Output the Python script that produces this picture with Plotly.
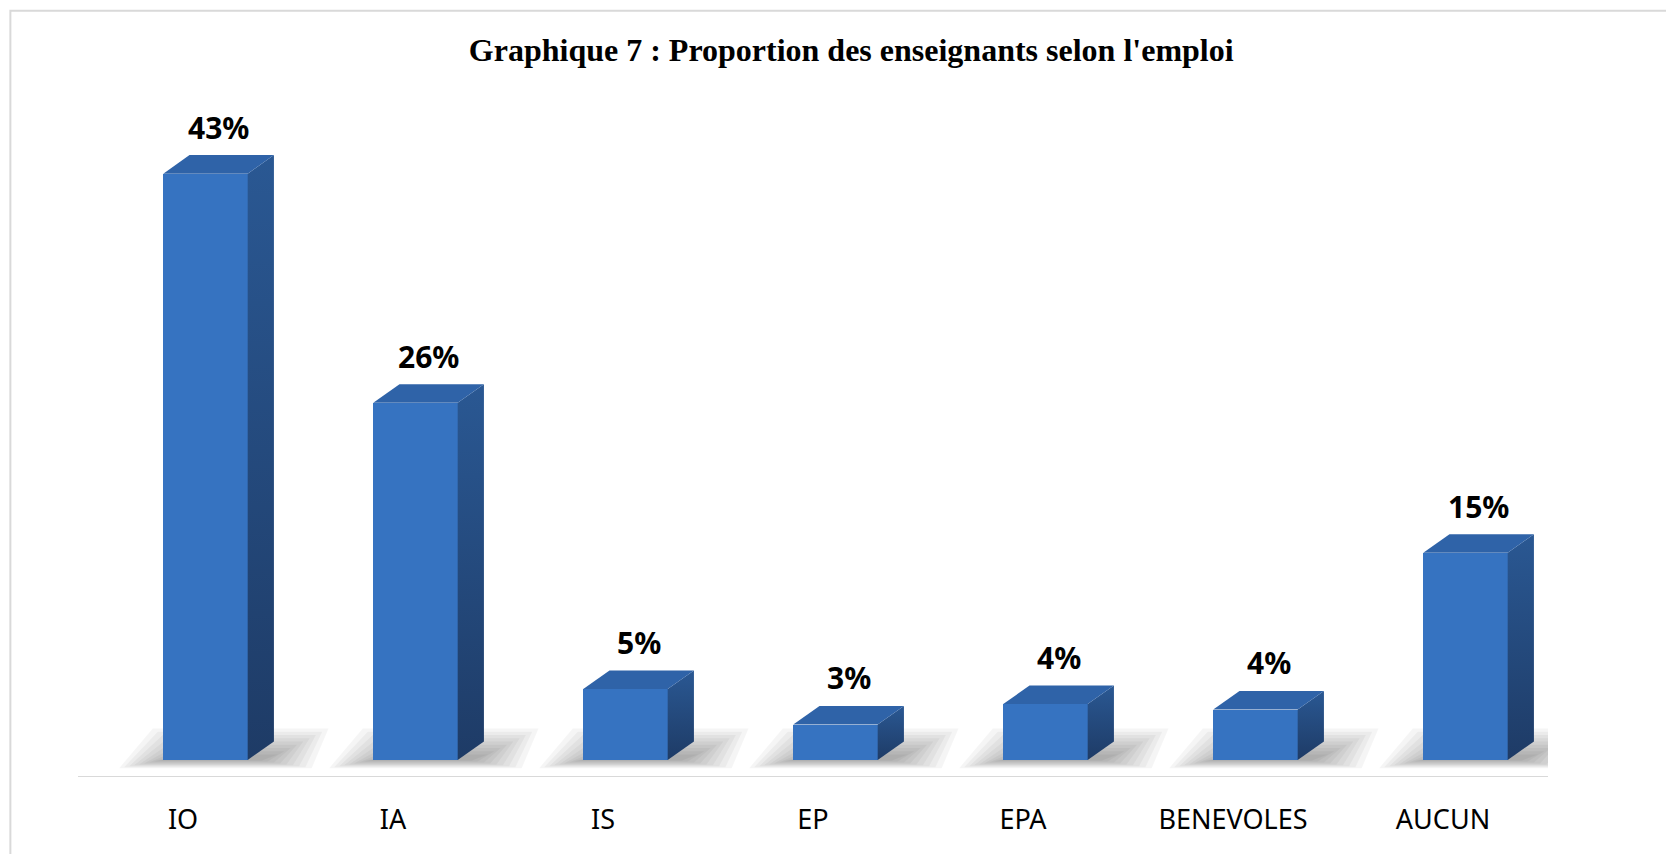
import plotly.graph_objects as go

categories = ["IO", "IA", "IS", "EP", "EPA", "BENEVOLES", "AUCUN"]
values = [43.0, 26.2, 5.2, 2.6, 4.1, 3.7, 15.2]
labels = [f"{round(v)}%" for v in values]
title_text = "Graphique 7 : Proportion des enseignants selon l'emploi"

# pseudo-3D geometry (in axis units)
OFF = 0.107     # front face shift to the right of slot centre
W = 0.402       # front face width
DX = 0.125      # depth offset in x
DY = 1.36       # depth offset in y
Y0 = -1.25      # floor front edge
YMAX = 48.4

FRONT = "#3673C1"
TOP = "#2F63A8"
SIDE_TOP = "#2A5893"
SIDE_BOT = "#1E3B66"

xs = list(range(len(categories)))
fig = go.Figure()

# soft floor shadow (layered translucent blobs)
shapes = []
n_layers = 9
for i, v in zip(xs, values):
    c = i + OFF
    for k in range(n_layers):
        f = k / (n_layers - 1)
        left = c - W / 2 - 0.19 * (1 - f) - 0.02
        right = c + W / 2 + DX + 0.24 * (1 - f) + 0.02
        ybot = -0.55 * (1 - f) - 0.05
        ytop = 0.4 + 1.9 * (1 - f)
        shapes.append(dict(type="path", layer="below", xref="x", yref="y",
                           path=(f"M {left} {ybot} L {right - 0.08} {ybot} "
                                 f"L {right} {ytop} L {left + 0.16} {ytop} Z"),
                           fillcolor="rgba(0,0,0,0.04)", line=dict(width=0)))

# front faces
fig.add_trace(go.Bar(x=[i + OFF for i in xs], y=values, width=W, base=0,
                     marker=dict(color=FRONT, line=dict(width=0)),
                     hoverinfo="skip", showlegend=False))

# side and top faces
for i, v in zip(xs, values):
    x0 = i + OFF - W / 2
    x1 = i + OFF + W / 2
    fig.add_trace(go.Scatter(
        x=[x1, x1 + DX, x1 + DX, x1, x1], y=[0, DY, v + DY, v, 0],
        mode="lines", fill="toself", line=dict(width=0),
        fillgradient=dict(type="vertical", colorscale=[[0, SIDE_BOT], [1, SIDE_TOP]]),
        hoverinfo="skip", showlegend=False))
    fig.add_trace(go.Scatter(
        x=[x0, x0 + DX, x1 + DX, x1, x0], y=[v, v + DY, v + DY, v, v],
        mode="lines", fill="toself", fillcolor=TOP, line=dict(width=0),
        hoverinfo="skip", showlegend=False))

annotations = []
for i, v, t in zip(xs, values, labels):
    annotations.append(dict(x=i + OFF + DX / 2, y=v + DY, xref="x", yref="y",
                            text=f"<b>{t}</b>", showarrow=False, yanchor="middle",
                            yshift=28, font=dict(family="Noto Sans", size=30, color="#000000")))

# outer border
shapes.append(dict(type="rect", xref="paper", yref="paper", x0=-0.046, x1=1.3,
                   y0=-0.5, y1=1.132, line=dict(color="#D9D9D9", width=2), layer="below"))

fig.update_layout(
    width=1674, height=854,
    margin=dict(l=70, r=134, t=92, b=85),
    paper_bgcolor="white", plot_bgcolor="white",
    title=dict(text=f"<b>{title_text}</b>", x=0.526, xref="paper", xanchor="center",
               y=1 - 42 / 854, yref="container", yanchor="middle", automargin=False,
               font=dict(family="Liberation Serif", size=32, color="#000000")),
    xaxis=dict(range=[-0.5, len(categories) - 0.5], tickvals=xs, ticktext=categories,
               showgrid=False, zeroline=False, showline=False, ticks="",
               tickfont=dict(family="Noto Sans", size=27, color="#000000"),
               ticklabelstandoff=24, fixedrange=True, automargin=False),
    yaxis=dict(range=[Y0, YMAX], visible=False, showgrid=False, zeroline=False,
               fixedrange=True, automargin=False),
    shapes=shapes + [dict(type="line", xref="paper", yref="y", x0=0, x1=1, y0=Y0, y1=Y0,
                          line=dict(color="#D9D9D9", width=2))],
    annotations=annotations,
    bargap=0,
)

fig.write_html("out.html")
